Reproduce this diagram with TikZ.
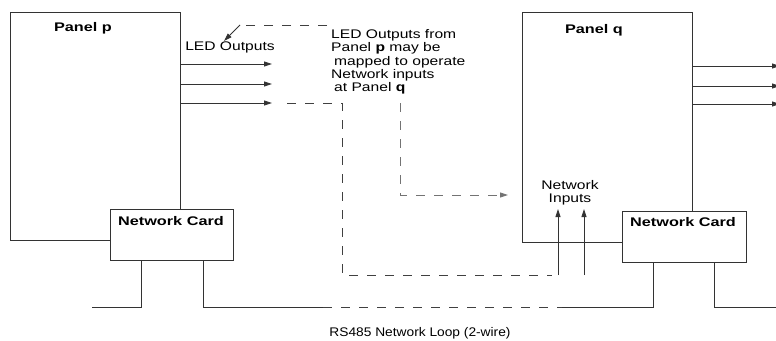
\documentclass[tikz,border=0pt]{standalone}
\usepackage{fontspec}
\setmainfont{Liberation Sans}[FakeStretch=1.25]
\newfontfamily\titlefont{Liberation Sans}[FakeStretch=1.3]
\newfontfamily\rsfont{Liberation Sans}[FakeStretch=1.1]
\usetikzlibrary{arrows.meta}
\begin{document}
\begin{tikzpicture}[x=1pt,y=-1pt,
  wire/.style={draw=black!80, line width=0.9pt},
  dwire/.style={draw=black!75, line width=0.9pt, dash pattern=on 9pt off 9pt},
  gwire/.style={draw=black!55, line width=0.9pt, dash pattern=on 9pt off 9pt},
  arr/.style={-{Triangle[length=8pt,width=5pt]}},
  box/.style={draw=black!80, line width=0.9pt, fill=white, inner sep=0, anchor=north west},
  txt/.style={font=\fontsize{12.5}{13.4}\selectfont, inner sep=0},
  ttl/.style={font=\titlefont\bfseries\fontsize{12.5}{14}\selectfont, inner sep=0}]
\useasboundingbox (0,0) rectangle (776,340);

% panels and cards
\node[box, minimum width=170pt, minimum height=228pt] (pp) at (10,12) {};
\node[box, minimum width=123pt, minimum height=51pt] (cp) at (110,209) {};
\node[box, minimum width=170pt, minimum height=230pt] (pq) at (522,12) {};
\node[box, minimum width=124pt, minimum height=51pt] (cq) at (622,211) {};

\node[ttl] (tp) at (83,28) {Panel p};
\node[ttl] (tq) at (594,30) {Panel q};
\node[ttl] (tcp) at (171,221) {Network Card};
\node[ttl] (tcq) at (683,222) {Network Card};

% LED outputs panel p
\coordinate (o1) at (272,64);
\coordinate (o2) at (272,84);
\coordinate (o3) at (272,103);
\draw[wire,arr] (pp.east |- o1) -- (o1);
\draw[wire,arr] (pp.east |- o2) -- (o2);
\draw[wire,arr] (pp.east |- o3) -- (o3);
\node[txt] (led) at (230,47) {LED Outputs};

% outputs panel q
\coordinate (q1) at (780,66);
\coordinate (q2) at (780,86);
\coordinate (q3) at (780,104);
\draw[wire,arr] (pq.east |- q1) -- (q1);
\draw[wire,arr] (pq.east |- q2) -- (q2);
\draw[wire,arr] (pq.east |- q3) -- (q3);

% note
\node[txt, align=left, anchor=north west] (note) at (331,29)
  {LED Outputs from\\Panel \textbf{p} may be\\\hspace{3pt}mapped to operate\\Network inputs\\\hspace{3pt}at Panel \textbf{q}};
\coordinate (t0) at (327,25);
\coordinate (t1) at (240,25);
\coordinate (t2) at (224,41);
\draw[dwire] (t0) -- (t1);
\draw[wire,arr] (t1) -- (t2);

% mapping dashed line to panel q
\coordinate (m0) at (400,103);
\coordinate (m1) at (400,195);
\coordinate (m2) at (508,195);
\draw[gwire,arr] (m0) -- (m1) -- (m2);

% dashed from output 3 to network inputs
\coordinate (d0) at (287,103);
\coordinate (d1) at (342,103);
\coordinate (d2) at (342,275);
\coordinate (d3) at (552,275);
\draw[dwire] (d0) -- (d1) -- (d2) -- (d3);

% network inputs
\node[txt, align=center] (ni) at (570,193) {Network\\Inputs};
\coordinate (n1b) at (558,275);
\coordinate (n1t) at (558,209);
\coordinate (n2b) at (584,275);
\coordinate (n2t) at (584,209);
\draw[wire,arr] (n1b) -- (n1t);
\draw[wire,arr] (n2b) -- (n2t);

% RS485 loop
\coordinate (w1) at (141,307);
\coordinate (w1l) at (92,307);
\coordinate (w2) at (203,307);
\coordinate (w2r) at (323,307);
\coordinate (w3l) at (562,307);
\coordinate (w3) at (653,307);
\coordinate (w4) at (714,307);
\coordinate (w4r) at (776,307);
\draw[wire] (cp.south -| w1) -- (w1) -- (w1l);
\draw[wire] (cp.south -| w2) -- (w2) -- (w2r);
\draw[dwire] (w2r) -- (w3l);
\draw[wire] (w3l) -- (w3) -- (cq.south -| w3);
\draw[wire] (cq.south -| w4) -- (w4) -- (w4r);

\node[font=\rsfont\fontsize{12.5}{14}\selectfont, inner sep=0] (rs) at (420,333) {RS485 Network Loop (2-wire)};
\end{tikzpicture}
\end{document}
